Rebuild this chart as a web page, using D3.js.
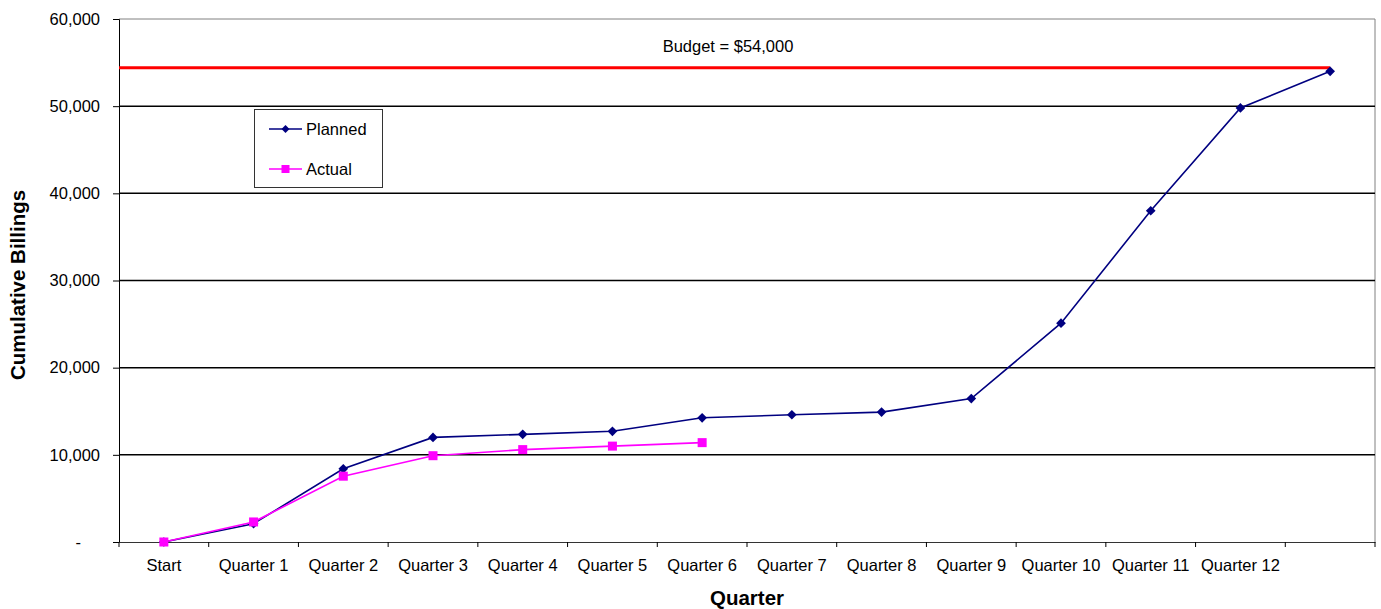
<!DOCTYPE html>
<html>
<head>
<meta charset="utf-8">
<script src="https://cdn.jsdelivr.net/npm/d3@7"></script>
<style>
  body { margin: 0; background: #fff; }
  text { font-family: "Liberation Sans", Arial, sans-serif; fill: #000; }
</style>
</head>
<body>
<div id="chart"></div>
<script>
// data
var categories = ["Start", "Quarter 1", "Quarter 2", "Quarter 3", "Quarter 4", "Quarter 5",
                  "Quarter 6", "Quarter 7", "Quarter 8", "Quarter 9", "Quarter 10",
                  "Quarter 11", "Quarter 12", ""];
var planned = [0, 2100, 8400, 12000, 12350, 12700, 14250, 14600, 14900, 16450, 25100, 38000, 49800, 54000];
var actual = [0, 2300, 7550, 9900, 10600, 11000, 11400];
var budgetValue = 54400;
var budgetLabel = "Budget = $54,000";
var yTicks = [0, 10000, 20000, 30000, 40000, 50000, 60000];

var w = 1381, h = 609;
// plot area edges (don't use "top" - clashes with window.top)
var pLeft = 119, pRight = 1375, pTop = 19, pBottom = 542;

var svg = d3.select("#chart").append("svg")
    .attr("width", w)
    .attr("height", h);

var x = d3.scaleBand()
    .domain(d3.range(categories.length))
    .range([pLeft, pRight])
    .paddingInner(0).paddingOuter(0);

var y = d3.scaleLinear()
    .domain([0, 60000])
    .range([pBottom, pTop]);

function cx(i) { return x(i) + x.bandwidth() / 2; }

// plot border (top + right, gray)
svg.append("path")
    .attr("d", "M" + pLeft + "," + pTop + "H" + pRight + "V" + pBottom)
    .attr("fill", "none")
    .attr("stroke", "#808080")
    .attr("stroke-width", 1);

// gridlines
svg.append("g").selectAll("line")
    .data(yTicks.filter(function(d) { return d > 0 && d < 60000; }))
    .join("line")
    .attr("x1", pLeft).attr("x2", pRight)
    .attr("y1", function(d) { return y(d); })
    .attr("y2", function(d) { return y(d); })
    .attr("stroke", "#000")
    .attr("stroke-width", 1.5);

// y axis
var yAxis = svg.append("g")
    .attr("transform", "translate(" + pLeft + ",0)")
    .call(d3.axisLeft(y).tickValues(yTicks).tickSize(6).tickPadding(13)
        .tickFormat(function(d) { return d === 0 ? "-" : d3.format(",")(d); }));
yAxis.select(".domain").attr("stroke", "#000");
yAxis.selectAll("line").attr("stroke", "#000");
yAxis.selectAll("text")
    .style("font-size", "16.5px")
    .style("font-family", "'Liberation Sans', Arial, sans-serif")
    .attr("fill", "#000");
yAxis.selectAll("text").filter(function(d) { return d === 0; })
    .attr("x", -38);

// x axis labels (ticks drawn at category boundaries below)
var xAxis = svg.append("g")
    .attr("transform", "translate(0," + pBottom + ")")
    .call(d3.axisBottom(x).tickSize(0).tickPadding(17)
        .tickFormat(function(i) { return categories[i]; }));
xAxis.select(".domain").attr("stroke", "#333");
xAxis.selectAll("text")
    .style("font-size", "16.5px")
    .style("font-family", "'Liberation Sans', Arial, sans-serif")
    .attr("fill", "#000");

svg.append("g").selectAll("line")
    .data(d3.range(categories.length + 1))
    .join("line")
    .attr("x1", function(i) { return pLeft + i * x.bandwidth(); })
    .attr("x2", function(i) { return pLeft + i * x.bandwidth(); })
    .attr("y1", pBottom).attr("y2", pBottom + 5)
    .attr("stroke", "#000");

// budget line
svg.append("line")
    .attr("x1", pLeft).attr("x2", cx(categories.length - 1))
    .attr("y1", y(budgetValue)).attr("y2", y(budgetValue))
    .attr("stroke", "#ff0000")
    .attr("stroke-width", 3);

svg.append("text")
    .attr("x", 728).attr("y", 52)
    .attr("text-anchor", "middle")
    .style("font-size", "16.5px")
    .text(budgetLabel);

// series
var line = d3.line()
    .x(function(d, i) { return cx(i); })
    .y(function(d) { return y(d); });

var diamond = d3.symbol().type(d3.symbolDiamond2).size(60);

svg.append("path")
    .datum(planned)
    .attr("d", line)
    .attr("fill", "none")
    .attr("stroke", "#000080")
    .attr("stroke-width", 1.6);

svg.append("g").selectAll("path")
    .data(planned)
    .join("path")
    .attr("transform", function(d, i) { return "translate(" + cx(i) + "," + y(d) + ")"; })
    .attr("d", diamond)
    .attr("fill", "#000080");

svg.append("path")
    .datum(actual)
    .attr("d", line)
    .attr("fill", "none")
    .attr("stroke", "#ff00ff")
    .attr("stroke-width", 1.6);

svg.append("g").selectAll("rect")
    .data(actual)
    .join("rect")
    .attr("x", function(d, i) { return cx(i) - 4.5; })
    .attr("y", function(d) { return y(d) - 4.5; })
    .attr("width", 9).attr("height", 9)
    .attr("fill", "#ff00ff");

// legend
var legend = svg.append("g");
legend.append("rect")
    .attr("x", 254.5).attr("y", 109.5)
    .attr("width", 128).attr("height", 78)
    .attr("fill", "#fff")
    .attr("stroke", "#333");

var legendItems = [
    { name: "Planned", color: "#000080", y: 129, shape: "diamond" },
    { name: "Actual", color: "#ff00ff", y: 169, shape: "square" }
];
legendItems.forEach(function(it) {
    legend.append("line")
        .attr("x1", 269).attr("x2", 302)
        .attr("y1", it.y).attr("y2", it.y)
        .attr("stroke", it.color).attr("stroke-width", 1.6);
    if (it.shape === "diamond") {
        legend.append("path")
            .attr("transform", "translate(285.5," + it.y + ")")
            .attr("d", d3.symbol().type(d3.symbolDiamond2).size(40))
            .attr("fill", it.color);
    } else {
        legend.append("rect")
            .attr("x", 281.5).attr("y", it.y - 4)
            .attr("width", 8).attr("height", 8)
            .attr("fill", it.color);
    }
    legend.append("text")
        .attr("x", 306).attr("y", it.y + 6)
        .style("font-size", "16.5px")
        .text(it.name);
});

// axis titles
svg.append("text")
    .attr("transform", "translate(25,285) rotate(-90)")
    .attr("text-anchor", "middle")
    .style("font-size", "20.5px")
    .style("font-weight", "bold")
    .text("Cumulative Billings");

svg.append("text")
    .attr("x", 747).attr("y", 605)
    .attr("text-anchor", "middle")
    .style("font-size", "20.5px")
    .style("font-weight", "bold")
    .text("Quarter");
</script>
</body>
</html>
